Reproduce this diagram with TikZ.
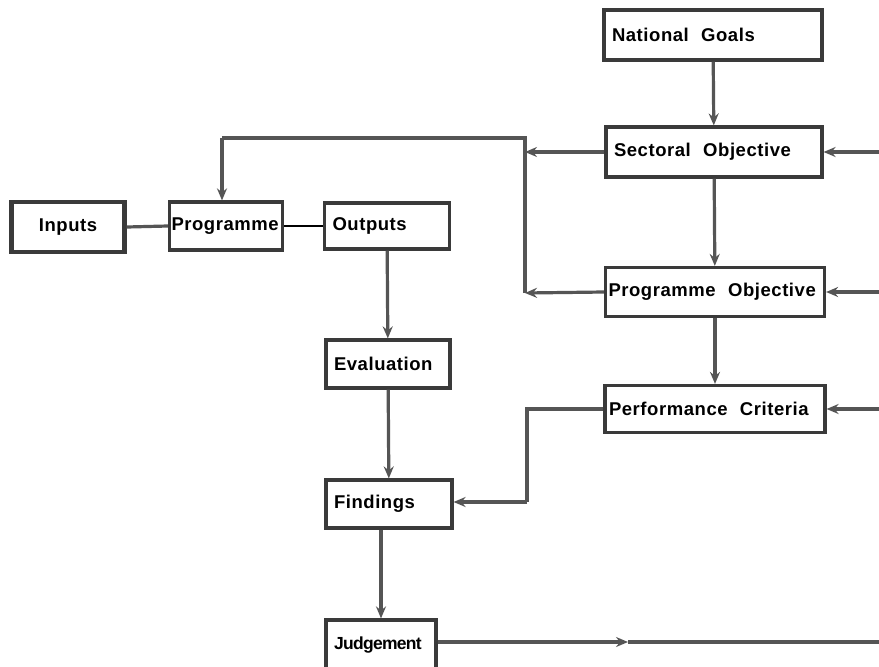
\documentclass[tikz,border=0pt]{standalone}
\usepackage{fontspec}
\setmainfont{Liberation Sans}
\usetikzlibrary{arrows.meta}
\definecolor{linegray}{HTML}{555555}
\definecolor{boxgray}{HTML}{3A3A3A}
\begin{document}
\begin{tikzpicture}[x=1pt,y=-1pt,
  box/.style 2 args={draw=boxgray, line width=3.2pt, fill=white, rectangle, inner sep=0pt,
    minimum width=#1pt, minimum height=#2pt, text width=#1pt-16pt, align=left,
    font=\fontsize{18.5}{21}\selectfont\bfseries\addfontfeatures{LetterSpace=3}, text=black},
  conn/.style={draw=linegray, line width=3.2pt},
  arr/.style={conn, -{Stealth[length=12pt,width=10pt,inset=4pt]}}]
\useasboundingbox (0,0) rectangle (879,667);
\clip (0,0) rectangle (879,667);
\fill[white] (0,0) rectangle (879,667);

% right column
\node[box={218}{50}] (ng) at (713,35) {National\ \ Goals};
\node[box={216}{50}] (so) at (714,152) {Sectoral\ \ Objective};
\node[box={219}{49}, text width=213pt] (po) at (715,292) {Programme\ \ Objective};
\node[box={220}{47}, text width=212pt] (pc) at (715,409) {Performance\ \ Criteria};

% left row
\node[box={113}{50}, line width=4.4pt, align=center] (in) at (68,227) {Inputs};
\node[box={113}{48}, text width=109pt] (pg) at (226,226) {Programme};
\node[box={125}{46}] (out) at (387,226) {Outputs};

% middle column
\node[box={124}{48}] (ev) at (388,364) {Evaluation};
\node[box={126}{48}] (fi) at (389,504) {Findings};
\node[box={110}{50}, font=\fontsize{17.5}{21}\selectfont\bfseries\addfontfeatures{LetterSpace=-4}] (ju) at (381,645) {Judgement};

% junction coordinates
\coordinate (jt) at (525,138);
\coordinate (pgin) at (222,138);
\coordinate (jso) at (525,152);
\coordinate (jpo) at (525,293);
\coordinate (jpc) at (527,409);
\coordinate (jfi) at (527,502);
\coordinate (rso) at (879,152);
\coordinate (rpo) at (879,292);
\coordinate (rpc) at (879,409);
\coordinate (jm) at (628,642);
\coordinate (jr) at (879,642);

% vertical chain on the right
\draw[arr] (ng) -- (so);
\draw[arr] (so) -- (po);
\draw[arr] (po) -- (pc);

% from the right edge
\draw[arr] (rso) -- (so.east);
\draw[arr] (rpo) -- (po.east);
\draw[arr] (rpc) -- (pc.east);

% objectives to programme
\draw[arr] (so.west) -- (jso);
\draw[arr] (po.west) -- (jpo);
\draw[conn] (jpo) -- (jt) -- (pgin);
\draw[arr] (pgin) -- (pg.north -| pgin);

% performance criteria to findings
\draw[conn] (pc.west) -- (jpc) -- (jfi);
\draw[arr] (jfi) -- (fi.east |- jfi);

% input - programme - outputs
\draw[conn] (in.east) -- (pg.west);
\draw[draw=black, line width=1.4pt] (pg.east) -- (out.west);

% middle chain
\draw[arr] (out) -- (ev);
\draw[arr] (ev) -- (fi);
\draw[arr] (fi.south -| ju) -- (ju.north);

% judgement feedback
\draw[arr] (ju.east |- jm) -- (jm);
\draw[conn] (jm) -- (jr);
\end{tikzpicture}
\end{document}
